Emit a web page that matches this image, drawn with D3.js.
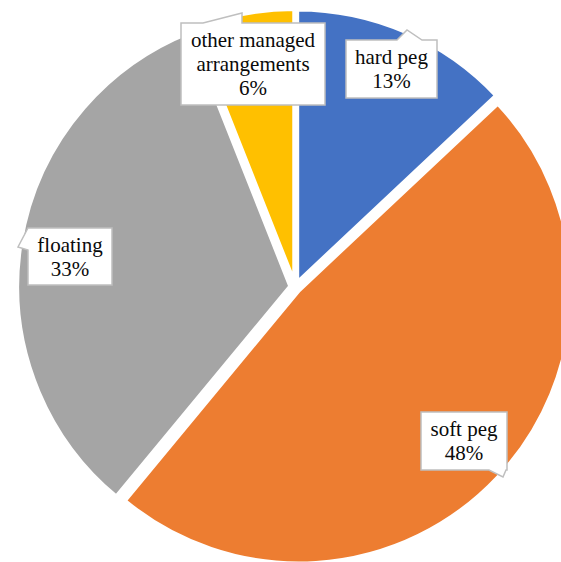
<!DOCTYPE html>
<html>
<head>
<meta charset="utf-8">
<script src="https://cdn.jsdelivr.net/npm/d3@7"></script>
<style>
  html, body { margin: 0; padding: 0; background: #fff; }
  svg { display: block; }
  .callout text { font-family: "Liberation Serif", "Times New Roman", serif; }
</style>
</head>
<body>
<svg id="chart" width="561" height="562"></svg>
<script>
// Exchange-rate regime shares (percent)
const categories = ["hard peg", "soft peg", "floating", "other managed arrangements"];
const shares = [13, 48, 33, 6];
const colors = ["#4472C4", "#ED7D31", "#A5A5A5", "#FFC000"];

// Label lines shown inside each callout (category name may wrap)
const labelLines = [
  ["hard peg"],
  ["soft peg"],
  ["floating"],
  ["other managed", "arrangements"]
];

// Callout boxes: box rectangle, side the pointer leaves from, pointer base span and tip
const callouts = [
  { x: 346, y: 40, w: 91, h: 58, side: "top", b0: 397, b1: 422, tip: [407, 30] },
  { x: 421, y: 412, w: 86, h: 58, side: "bottom", b0: 489, b1: 506, tip: [503, 477] },
  { x: 28, y: 228, w: 84, h: 57, side: "left", b0: 228, b1: 250, tip: [18, 247] },
  { x: 181, y: 23, w: 144, h: 82, side: "top", b0: 203, b1: 242, tip: [242, 13] }
];

const svg = d3.select("#chart");
const cx = 295.2, cy = 287, radius = 273, explode = 5;

const pie = d3.pie().sort(null).value(d => d.value).startAngle(0).endAngle(2 * Math.PI);
const arc = d3.arc().innerRadius(0).outerRadius(radius);

const data = categories.map((c, i) => ({ name: c, value: shares[i], i }));
const arcs = pie(data);

const g = svg.append("g").attr("transform", `translate(${cx},${cy})`);

// Slices pulled slightly apart along their bisectors, separated by a white border
g.selectAll("path.slice")
  .data(arcs)
  .join("path")
  .attr("class", "slice")
  .attr("fill", d => colors[d.data.i])
  .attr("stroke", "#fff")
  .attr("stroke-width", 4)
  .attr("stroke-linejoin", "round")
  .attr("transform", d => {
    const mid = (d.startAngle + d.endAngle) / 2;
    return `translate(${explode * Math.sin(mid)},${-explode * Math.cos(mid)})`;
  })
  .attr("d", arc);

// Build a callout outline: rectangle with a wedge pointer on one side
function calloutPath(c) {
  const { x, y, w, h, side, b0, b1, tip } = c;
  const r = x + w, b = y + h;
  const p = d3.path();
  p.moveTo(x, y);
  if (side === "top") {
    p.lineTo(b0, y); p.lineTo(tip[0], tip[1]); p.lineTo(b1, y);
  }
  p.lineTo(r, y);
  p.lineTo(r, b);
  if (side === "bottom") {
    p.lineTo(b1, b); p.lineTo(tip[0], tip[1]); p.lineTo(b0, b);
  }
  p.lineTo(x, b);
  if (side === "left") {
    p.lineTo(x, b1); p.lineTo(tip[0], tip[1]); p.lineTo(x, b0);
  }
  p.closePath();
  return p.toString();
}

const labels = svg.selectAll("g.callout")
  .data(arcs)
  .join("g")
  .attr("class", "callout");

labels.append("path")
  .attr("d", d => calloutPath(callouts[d.data.i]))
  .attr("fill", "#fff")
  .attr("stroke", "#BFBFBF")
  .attr("stroke-width", 1.5)
  .attr("stroke-linejoin", "miter");

const lineH = 24;
labels.each(function(d) {
  const c = callouts[d.data.i];
  const lines = labelLines[d.data.i].concat([d3.format(".0f")(d.data.value) + "%"]);
  const midX = c.x + c.w / 2;
  const midY = c.y + c.h / 2;
  const firstBase = midY - (lines.length - 1) * lineH / 2 + 7;
  const t = d3.select(this).append("text")
    .attr("text-anchor", "middle")
    .attr("font-size", 21)
    .attr("fill", "#0a0a0a");
  lines.forEach((ln, k) => {
    t.append("tspan").attr("x", midX).attr("y", firstBase + k * lineH).text(ln);
  });
});
</script>
</body>
</html>
